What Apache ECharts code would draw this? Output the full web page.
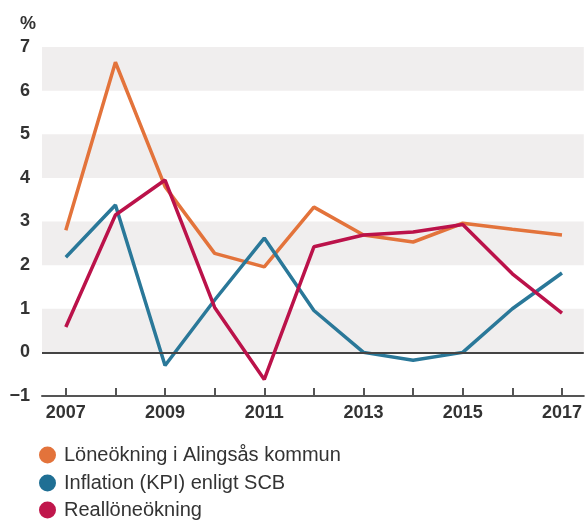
<!DOCTYPE html>
<html>
<head>
<meta charset="utf-8">
<script src="https://cdn.jsdelivr.net/npm/echarts@6/dist/echarts.min.js"></script>
<style>html,body{margin:0;padding:0;background:#fff;}#c{width:585px;height:520px;}</style>
</head>
<body>
<div id="c"></div>
<script>
var years = [2007, 2008, 2009, 2010, 2011, 2012, 2013, 2014, 2015, 2016, 2017];
var labelYears = [2007, 2009, 2011, 2013, 2015, 2017];
var loneokning = [2.8, 6.65, 3.8, 2.27, 1.96, 3.33, 2.69, 2.53, 2.96, 2.82, 2.69];
var inflation = [2.18, 3.38, -0.3, 1.2, 2.62, 0.96, 0.0, -0.18, 0.0, 1.0, 1.82];
var realloneokning = [0.58, 3.15, 3.95, 1.03, -0.62, 2.42, 2.69, 2.76, 2.93, 1.8, 0.9];
var seriesNames = ['Löneökning i Alingsås kommun', 'Inflation (KPI) enligt SCB', 'Reallöneökning'];

function pairs(vals) { return years.map(function (y, i) { return [y, vals[i]]; }); }

var font = '"Liberation Sans", Arial, sans-serif';
var legendTops = [445, 473, 500];
var legends = seriesNames.map(function (n, i) {
  return {
    orient: 'vertical', left: 39, top: legendTops[i], padding: 0,
    icon: 'circle', itemWidth: 17, itemHeight: 17,
    data: [n],
    textStyle: { fontFamily: font, fontSize: 20, color: '#333', padding: [0, 0, 0, 3] }
  };
});
var chart = echarts.init(document.getElementById('c'), null, { renderer: 'canvas' });
chart.setOption({
  animation: false,
  backgroundColor: '#ffffff',
  title: {
    text: '%', left: 15, top: 10,
    textStyle: { fontFamily: font, fontSize: 18, fontWeight: 'bold', color: '#333' }
  },
  grid: { left: 42, right: 0, top: 47, bottom: 124 },
  legend: legends,
  xAxis: {
    type: 'value', min: 2006.52, max: 2017.44,
    axisLine: { show: true, onZero: false, lineStyle: { color: '#555', width: 2 } },
    axisTick: { show: true, inside: true, length: 8, customValues: years, lineStyle: { color: '#555', width: 2 } },
    axisLabel: { customValues: labelYears, margin: 8, fontFamily: font, fontSize: 18, fontWeight: 'bold', color: '#333',
      formatter: function (v) { return String(v); } },
    splitLine: { show: false }
  },
  yAxis: {
    type: 'value', min: -1, max: 7, interval: 1,
    axisLine: { show: false }, axisTick: { show: false },
    axisLabel: { margin: 12, fontFamily: font, fontSize: 18, fontWeight: 'bold', color: '#333',
      formatter: function (v) { return v < 0 ? '\u2212' + Math.abs(v) : String(v); } },
    splitLine: { show: false },
    splitArea: { show: true, areaStyle: { color: ['rgba(255,255,255,0)', '#f0eeee'] } }
  },
  series: [
    { name: seriesNames[0], type: 'line', data: pairs(loneokning), symbol: 'none', color: '#e3733b',
      lineStyle: { width: 3.5, color: '#e3733b' }, z: 3,
      markLine: { silent: true, symbol: 'none', label: { show: false },
        lineStyle: { color: '#444', width: 2, type: 'solid' }, data: [{ yAxis: 0 }] } },
    { name: seriesNames[1], type: 'line', data: pairs(inflation), symbol: 'none', color: '#1f6f94',
      lineStyle: { width: 3.5, color: '#2a7899' }, z: 4 },
    { name: seriesNames[2], type: 'line', data: pairs(realloneokning), symbol: 'none', color: '#c0174c',
      lineStyle: { width: 3.5, color: '#bb124a' }, z: 5 }
  ]
});
</script>
</body>
</html>
